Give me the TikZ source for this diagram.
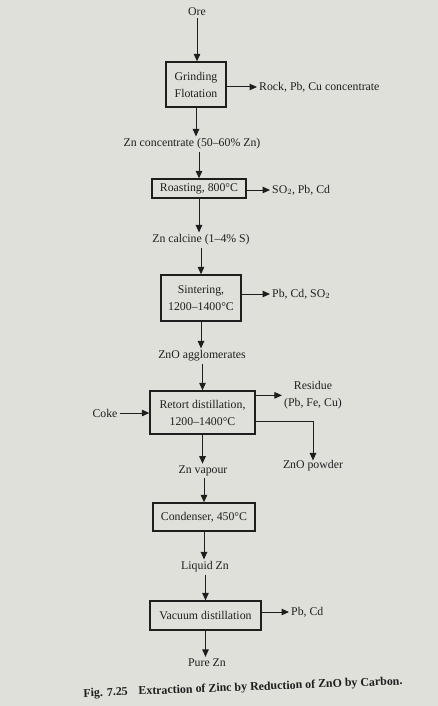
\documentclass[tikz,border=0pt]{standalone}
\usepackage{fontspec}
\setmainfont{Liberation Serif}
\usetikzlibrary{arrows.meta}
\definecolor{pagebg}{RGB}{224,224,219}
\definecolor{ink}{RGB}{30,30,30}
\tikzset{
  box/.style={draw=ink, line width=1.3pt, inner sep=0pt, align=center, text=ink,
    font=\fontsize{11.8}{17}\selectfont},
  lbl/.style={inner sep=2pt, align=center, text=ink, font=\fontsize{11.8}{16.5}\selectfont},
  arr/.style={draw=ink, line width=1pt, -{Triangle[length=7.5pt,width=6.5pt]}},
  ln/.style={draw=ink, line width=1pt}
}
\begin{document}
\begin{tikzpicture}[x=1pt,y=-1pt]
\fill[pagebg] (0,0) rectangle (438,706);
\useasboundingbox (0,0) rectangle (438,706);

\node[lbl] (ore) at (197,12) {Ore};
\node[box, minimum width=60pt, minimum height=45pt] (grind) at (196,84.5) {Grinding\\Flotation};
\node[lbl, anchor=west] (rock) at (257,87) {Rock, Pb, Cu concentrate};
\node[lbl] (conc) at (192,144) {Zn concentrate (50--60\% Zn)};
\node[box, minimum width=94pt, minimum height=19pt] (roast) at (199,188.5) {Roasting, 800°C};
\node[lbl, anchor=west] (so2) at (270,190) {SO$_2$, Pb, Cd};
\node[lbl] (calc) at (201,240) {Zn calcine (1--4\% S)};
\node[box, minimum width=80pt, minimum height=46pt] (sint) at (201,298) {Sintering,\\1200--1400°C};
\node[lbl, anchor=west] (pbcd) at (270,294) {Pb, Cd, SO$_2$};
\node[lbl] (aggl) at (202,356) {ZnO agglomerates};
\node[box, minimum width=105pt, minimum height=43pt] (retort) at (202.5,412.5) {Retort distillation,\\1200--1400°C};
\node[lbl] (coke) at (105,413) {Coke};
\node[lbl] (residue) at (313,395) {Residue\\(Pb, Fe, Cu)};
\node[lbl] (powder) at (313,466) {ZnO powder};
\node[lbl] (zv) at (203,471) {Zn vapour};
\node[box, minimum width=102pt, minimum height=28pt] (cond) at (204,517) {Condenser, 450°C};
\node[lbl] (liq) at (205,567) {Liquid Zn};
\node[box, minimum width=111pt, minimum height=29pt] (vac) at (205.5,615.5) {Vacuum distillation};
\node[lbl, anchor=west] (pbcd2) at (289,612) {Pb, Cd};
\node[lbl] (pure) at (207,663) {Pure Zn};

\node[inner sep=0pt, text=ink, rotate=2.2, font=\bfseries\fontsize{11.9}{13}\selectfont] (cap) at (243,688)
  {Fig. 7.25\hspace{0.9em}Extraction of Zinc by Reduction of ZnO by Carbon.};

% vertical flow
\draw[arr] (ore.south) -- (ore.south |- grind.north);
\draw[arr] (grind.south) -- (grind.south |- conc.north);
\draw[arr] (roast.north |- conc.south) -- (roast.north);
\draw[arr] (roast.south) -- (roast.south |- calc.north);
\draw[arr] (sint.north |- calc.south) -- (sint.north);
\draw[arr] (sint.south) -- (sint.south |- aggl.north);
\draw[arr] (retort.north |- aggl.south) -- (retort.north);
\draw[arr] (retort.south) -- (retort.south |- zv.north);
\draw[arr] (cond.north |- zv.south) -- (cond.north);
\draw[arr] (cond.south) -- (cond.south |- liq.north);
\draw[arr] (vac.north |- liq.south) -- (vac.north);
\draw[arr] (vac.south) -- (vac.south |- pure.north);

% side streams
\draw[arr] (grind.east |- rock) -- (rock.west);
\draw[arr] (roast.east |- so2) -- (so2.west);
\draw[arr] (sint.east |- pbcd) -- (pbcd.west);
\draw[arr] (coke.east) -- (coke.east -| retort.west);
\draw[arr] ([yshift=-5pt]retort.north east) -- ([yshift=-5pt]retort.north east -| residue.west);
\draw[arr] ([yshift=13pt]retort.south east) -| ([yshift=-2pt]powder.north);
\draw[arr] (vac.east |- pbcd2) -- (pbcd2.west);
\end{tikzpicture}
\end{document}
